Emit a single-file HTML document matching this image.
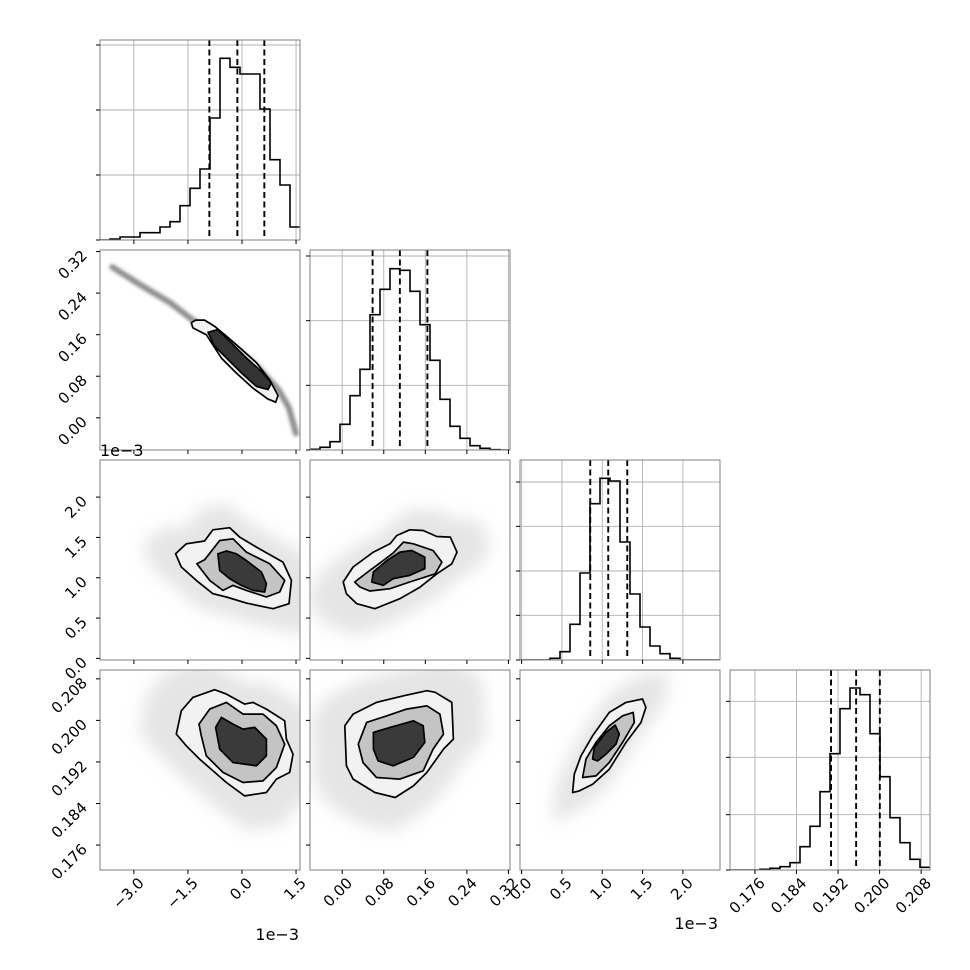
<!DOCTYPE html>
<html><head><meta charset="utf-8"><style>
html,body{margin:0;padding:0;background:#fff}
svg{display:block}
text{font-family:"DejaVu Sans","Liberation Sans",sans-serif;fill:#000}
</style></head><body>
<svg id="chart" width="970" height="970" viewBox="0 0 970 970" xmlns="http://www.w3.org/2000/svg">
<defs>
<filter id="blurA" x="-50%" y="-50%" width="200%" height="200%"><feGaussianBlur stdDeviation="8"/></filter>
<filter id="blurB" x="-50%" y="-50%" width="200%" height="200%"><feGaussianBlur stdDeviation="1.5"/></filter>
</defs>
</svg>
<script>
// ---- parameter ranges ----
const p1Range=[-3.94,1.61];
const p2Range=[-0.062,0.323];
const p3Range=[-0.02,2.46];
const p4Range=[0.1712,0.2097];
// ---- ticks ----
const p1Ticks=[-3.0,-1.5,0.0,1.5];
const p1Labels=["\u22123.0","\u22121.5","0.0","1.5"];
const p2Ticks=[0.00,0.08,0.16,0.24,0.32];
const p2Labels=["0.00","0.08","0.16","0.24","0.32"];
const p3Ticks=[0.0,0.5,1.0,1.5,2.0];
const p3Labels=["0.0","0.5","1.0","1.5","2.0"];
const p4Ticks=[0.176,0.184,0.192,0.200,0.208];
const p4Labels=["0.176","0.184","0.192","0.200","0.208"];
// ---- 1D histograms (20 bins each over the parameter range) ----
const hist1Counts=[0,3,9,9,22,22,39,55,103,155,213,366,545,518,498,498,393,241,165,39];
const hist2Counts=[2,8,25,77,163,242,406,482,544,539,476,376,269,152,71,35,13,5,1,0];
const hist3Counts=[0,0,0,5,25,107,261,469,545,537,354,198,99,42,19,5,0,0,0,0];
const hist4Counts=[0,0,0,2,5,10,22,70,131,235,349,484,546,526,409,280,157,82,32,8];
const hist1CountTicks=[0,195,390,585];
const hist2CountTicks=[0,194,388,582];
const hist3CountTicks=[0,134,267,401,534];
const hist4CountTicks=[0,166,338,506];
const countMax=600;
// ---- quantiles (16/50/84) ----
const q1=[-0.905,-0.128,0.62];
const q2=[0.0585,0.111,0.164];
const q3=[0.851,1.074,1.31];
const q4=[0.19065,0.19548,0.20004];
// ---- 2D contours [x values],[y values] ----
const c21OuterX=[-1.406,-1.286,-1.036,-0.758,-0.433,-0.064,0.4,0.769,1.0,0.936,0.722,0.306,-0.156,-0.572,-0.758,-0.989,-1.361];
const c21OuterY=[0.183,0.188,0.188,0.176,0.157,0.135,0.106,0.073,0.043,0.030,0.036,0.057,0.086,0.115,0.135,0.160,0.173];
const c21InnerX=[-0.944,-0.667,-0.342,0.122,0.583,0.817,0.722,0.4,-0.017,-0.433,-0.758];
const c21InnerY=[0.1646,0.1698,0.1473,0.1153,0.0864,0.0671,0.0542,0.0605,0.0864,0.1153,0.1376];
const band21X=[-3.6,-2.8,-2.0,-1.4,-0.5,0.4,1.0,1.3,1.5];
const band21Y=[0.290,0.255,0.222,0.19,0.15,0.1,0.055,0.02,-0.03];

const c31OuterX=[-1.842,-1.544,-1.036,-0.806,-0.342,-0.064,0.4,1.139,1.372,1.306,0.861,0.122,-0.433,-0.806,-1.267,-1.683];
const c31OuterY=[1.297,1.421,1.455,1.595,1.62,1.504,1.380,1.194,0.967,0.678,0.616,0.686,0.761,0.802,0.967,1.133];
const c31MidX=[-1.25,-1.036,-0.619,-0.25,0.122,0.769,1.186,1.047,0.678,0.122,-0.25,-0.528,-0.897];
const c31MidY=[1.173,1.223,1.462,1.483,1.318,1.173,0.967,0.823,0.761,0.843,0.905,0.843,0.967];
const c31InX=[-0.667,-0.433,-0.156,0.122,0.539,0.678,0.631,0.306,-0.017,-0.342,-0.619];
const c31InY=[1.297,1.331,1.297,1.214,1.071,0.926,0.823,0.843,0.905,0.988,1.09];

const c32OuterX=[0.002,0.021,0.06,0.092,0.105,0.13,0.156,0.182,0.208,0.221,0.211,0.182,0.15,0.111,0.063,0.028,0.008];
const c32OuterY=[0.947,1.133,1.318,1.421,1.524,1.595,1.586,1.512,1.504,1.318,1.173,1.049,0.884,0.74,0.616,0.678,0.802];
const c32MidX=[0.024,0.053,0.079,0.098,0.118,0.137,0.175,0.192,0.179,0.130,0.092,0.053,0.034];
const c32MidY=[0.947,1.090,1.214,1.306,1.442,1.421,1.338,1.194,1.049,0.947,0.864,0.835,0.885];
const c32InX=[0.057,0.06,0.086,0.111,0.134,0.159,0.159,0.130,0.098,0.079];
const c32InY=[0.947,1.071,1.214,1.318,1.338,1.256,1.112,1.029,0.988,0.905];

const c41OuterX=[-1.822,-1.683,-1.361,-0.758,-0.433,0.075,0.306,0.678,1.186,1.233,1.417,1.325,0.956,0.678,0.075,-0.433,-1.175,-1.544];
const c41OuterY=[0.19736,0.20185,0.20443,0.2059,0.20507,0.20314,0.20347,0.20218,0.19992,0.1964,0.1935,0.18998,0.18869,0.18612,0.18547,0.18805,0.19254,0.1951];
const c41MidX=[-1.194,-0.897,-0.433,0.028,0.583,0.956,1.186,0.956,0.583,0.028,-0.528,-0.989,-1.128];
const c41MidY=[0.19929,0.20218,0.20347,0.20121,0.20121,0.19896,0.19543,0.19094,0.18836,0.18805,0.18998,0.19318,0.19703];
const c41InX=[-0.731,-0.572,-0.25,0.028,0.353,0.678,0.678,0.4,-0.25,-0.619];
const c41InY=[0.19865,0.20058,0.19929,0.19832,0.19865,0.1964,0.19318,0.19125,0.1919,0.19447];

const c42OuterX=[0.005,0.021,0.066,0.118,0.163,0.179,0.211,0.214,0.195,0.163,0.137,0.102,0.063,0.021,0.008];
const c42OuterY=[0.19896,0.20121,0.20347,0.20474,0.20571,0.2054,0.20347,0.1964,0.19447,0.18998,0.18739,0.18516,0.18612,0.18869,0.19125];
const c42MidX=[0.031,0.047,0.086,0.124,0.163,0.188,0.195,0.175,0.156,0.111,0.066,0.040];
const c42MidY=[0.19543,0.19961,0.20089,0.20218,0.20281,0.20121,0.19736,0.19447,0.19029,0.18869,0.18901,0.1919];
const c42InX=[0.060,0.060,0.092,0.137,0.156,0.159,0.137,0.098,0.069];
const c42InY=[0.19447,0.19769,0.19865,0.19992,0.19896,0.19576,0.19287,0.19125,0.19221];

const c43OuterX=[0.632,0.653,0.736,0.880,1.087,1.294,1.499,1.541,1.480,1.294,1.087,0.880,0.715];
const c43OuterY=[0.18612,0.18965,0.19318,0.19703,0.20154,0.20347,0.20411,0.20251,0.19961,0.19576,0.19061,0.18772,0.18643];
const c43MidX=[0.756,0.798,0.922,1.087,1.252,1.384,1.397,1.252,1.087,0.922];
const c43MidY=[0.18901,0.19254,0.19576,0.19896,0.20089,0.20154,0.19961,0.19576,0.1919,0.18932];
const c43InX=[0.880,0.901,1.046,1.161,1.211,1.170,1.046,0.942];
const c43InY=[0.19254,0.1948,0.19769,0.19909,0.19736,0.19543,0.1935,0.19221];

// ---- layout ----
const NS="http://www.w3.org/2000/svg";
const svg=document.getElementById('chart');
const P=200, GAP=210, X0=100, Y0=40;
const ranges=[p1Range,p2Range,p3Range,p4Range];
const ticksAll=[p1Ticks,p2Ticks,p3Ticks,p4Ticks];
const labelsAll=[p1Labels,p2Labels,p3Labels,p4Labels];
function px(col,v){const r=ranges[col];return X0+GAP*col+(v-r[0])/(r[1]-r[0])*P;}
function py(row,v){const r=ranges[row];return Y0+GAP*row+P-(v-r[0])/(r[1]-r[0])*P;}
function cy(row,c){return Y0+GAP*row+P-c/countMax*P;}
function mk(tag,attrs,parent){const e=document.createElementNS(NS,tag);for(const k in attrs)e.setAttribute(k,attrs[k]);(parent||svg).appendChild(e);return e;}

function panelGroup(row,col,name){
  const g=mk('g',{});
  
  
  const cp=mk('clipPath',{id:'clip'+row+col});
  mk('rect',{x:X0+GAP*col,y:Y0+GAP*row,width:P,height:P},cp);
  const inner=mk('g',{'clip-path':'url(#clip'+row+col+')'},g);
  return [g,inner];
}
function frame(g,row,col){
  const r=mk('rect',{x:X0+GAP*col,y:Y0+GAP*row,width:P,height:P,fill:'none',stroke:'#808080','stroke-width':1},g);
  
  
}
function xTicks(g,row,col){
  const yb=Y0+GAP*row+P;
  ticksAll[col].forEach(t=>{const x=px(col,t);mk('line',{x1:x,x2:x,y1:yb,y2:yb+4,stroke:'#000','stroke-width':1},g);});
}
function yTicksVals(g,row,col,vals,f){
  const xl=X0+GAP*col;
  vals.forEach(t=>{const y=f(t);mk('line',{x1:xl-4,x2:xl,y1:y,y2:y,stroke:'#000','stroke-width':1},g);});
}
function poly(g,xs,ys,row,col,fill,stroke,name){
  const pts=xs.map((x,i)=>px(col,x).toFixed(1)+','+py(row,ys[i]).toFixed(1)).join(' ');
  const p=mk('polygon',{points:pts,fill:fill,stroke:stroke,'stroke-width':stroke==='none'?0:1.7,'stroke-linejoin':'round'},g);
  
  
  return p;
}
function cloud(g,xs,ys,row,col,scale){
  let mx=0,my=0;xs.forEach((x,i)=>{mx+=px(col,x);my+=py(row,ys[i]);});mx/=xs.length;my/=xs.length;
  const pts=xs.map((x,i)=>{const X=mx+(px(col,x)-mx)*scale,Y=my+(py(row,ys[i])-my)*scale;return X.toFixed(1)+','+Y.toFixed(1);}).join(' ');
  const p=mk('polygon',{points:pts,fill:'#a8a8a8','fill-opacity':0.3,filter:'url(#blurA)'},g);
  
  
}

// ---- diagonal histograms ----
const histCounts=[hist1Counts,hist2Counts,hist3Counts,hist4Counts];
const histCountTicks=[hist1CountTicks,hist2CountTicks,hist3CountTicks,hist4CountTicks];
const quants=[q1,q2,q3,q4];
for(let i=0;i<4;i++){
  const [g,inner]=panelGroup(i,i,'histogram-param-'+(i+1));
  const r=ranges[i];
  ticksAll[i].forEach(t=>{const x=px(i,t);mk('line',{x1:x,x2:x,y1:Y0+GAP*i,y2:Y0+GAP*i+P,stroke:'#b0b0b0','stroke-width':0.9},inner);});
  histCountTicks[i].forEach(c=>{const y=cy(i,c);mk('line',{x1:X0+GAP*i,x2:X0+GAP*i+P,y1:y,y2:y,stroke:'#b0b0b0','stroke-width':0.9},inner);});
  const counts=histCounts[i],n=counts.length,w=(r[1]-r[0])/n;
  let d='';
  counts.forEach((c,k)=>{const xa=px(i,r[0]+k*w),xb=px(i,r[0]+(k+1)*w),y=cy(i,c);d+=(k===0?'M'+xa+','+y:'L'+xa+','+y)+'L'+xb+','+y;});
  const path=mk('path',{d:d,fill:'none',stroke:'#000','stroke-width':1.6},inner);
  
  
  quants[i].forEach(q=>{const x=px(i,q);
    const l=mk('line',{x1:x,x2:x,y1:Y0+GAP*i,y2:Y0+GAP*i+P,stroke:'#000','stroke-width':1.9,'stroke-dasharray':'6,3.5'},inner);
    
    
  });
  frame(g,i,i);
  xTicks(g,i,i);
  yTicksVals(g,i,i,histCountTicks[i],c=>cy(i,c));
}

// ---- 2D panels ----
const twoD=[
 {row:1,col:0,o:[c21OuterX,c21OuterY],i:[c21InnerX,c21InnerY]},
 {row:2,col:0,o:[c31OuterX,c31OuterY],m:[c31MidX,c31MidY],i:[c31InX,c31InY]},
 {row:2,col:1,o:[c32OuterX,c32OuterY],m:[c32MidX,c32MidY],i:[c32InX,c32InY]},
 {row:3,col:0,o:[c41OuterX,c41OuterY],m:[c41MidX,c41MidY],i:[c41InX,c41InY]},
 {row:3,col:1,o:[c42OuterX,c42OuterY],m:[c42MidX,c42MidY],i:[c42InX,c42InY]},
 {row:3,col:2,o:[c43OuterX,c43OuterY],m:[c43MidX,c43MidY],i:[c43InX,c43InY]}
];
twoD.forEach(p=>{
  const [g,inner]=panelGroup(p.row,p.col,'density-panel-'+(p.row+1)+'-'+(p.col+1));
  if(p.row===1&&p.col===0){
    const pts=band21X.map((x,k)=>px(0,x).toFixed(1)+','+py(1,band21Y[k]).toFixed(1)).join(' ');
    const b=mk('polyline',{points:pts,fill:'none',stroke:'#444','stroke-opacity':0.6,'stroke-width':6,'stroke-linecap':'round',filter:'url(#blurB)'},inner);
    
    
  } else {
    cloud(inner,p.o[0],p.o[1],p.row,p.col,1.6);
  }
  poly(inner,p.o[0],p.o[1],p.row,p.col,'#f2f2f2','#000','contour-outer');
  if(p.m) poly(inner,p.m[0],p.m[1],p.row,p.col,'#c4c4c4','#000','contour-middle');
  poly(inner,p.i[0],p.i[1],p.row,p.col,p.m?'#3a3a3a':'#333','#000','contour-inner');
  frame(g,p.row,p.col);
  xTicks(g,p.row,p.col);
  yTicksVals(g,p.row,p.col,ticksAll[p.row],v=>py(p.row,v));
});

// ---- tick labels ----
const xLab=mk('g',{});


for(let c=0;c<4;c++){
  ticksAll[c].forEach((t,k)=>{
    const x=px(c,t)+11,y=884;
    const tx=mk('text',{x:x,y:y,'font-size':15,'text-anchor':'end',transform:'rotate(-45 '+x+' '+y+')'},xLab);
    tx.textContent=labelsAll[c][k];
  });
}
const yLab=mk('g',{});


for(let r=1;r<4;r++){
  ticksAll[r].forEach((t,k)=>{
    const x=88,y=py(r,t)+5;
    const tx=mk('text',{x:x,y:y,'font-size':15,'text-anchor':'end',transform:'rotate(-45 '+x+' '+y+')'},yLab);
    tx.textContent=labelsAll[r][k];
  });
}
// offset labels
[[299,940,'end','offset-label-x-param1'],[718,929,'end','offset-label-x-param3'],[100,456,'start','offset-label-y-param3']].forEach(o=>{
  const t=mk('text',{x:o[0],y:o[1],'font-size':16,'text-anchor':o[2]});
  
  
  t.textContent='1e\u22123';
});
</script>
</body></html>
